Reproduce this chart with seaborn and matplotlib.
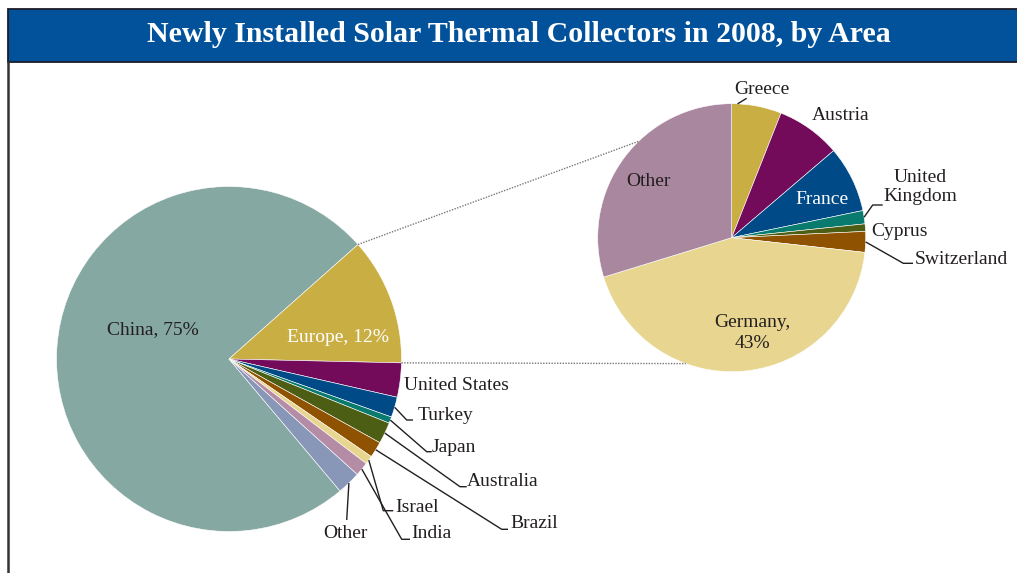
import numpy as np
import matplotlib.pyplot as plt
import seaborn as sns
from matplotlib.patches import Rectangle

# world split of newly installed collector area, 2008 (%)
world_labels = ["China", "Europe", "United States", "Turkey", "Japan",
                "Australia", "Brazil", "Israel", "India", "Other"]
world_share = [74.5, 11.9, 3.2, 1.9, 0.6, 2.0, 1.5, 0.8, 1.3, 2.2]
world_colors = ["#86a8a3", "#c9ae44", "#730a5a", "#004a88", "#087a6e",
                "#4c5e14", "#8e5200", "#e8d58f", "#b58ca5", "#8896b8"]

# breakdown of the European slice (%)
europe_labels = ["Greece", "Austria", "France", "United Kingdom", "Cyprus",
                 "Switzerland", "Germany", "Other"]
europe_share = [6.0, 7.75, 8.0, 1.6, 0.9, 2.5, 43.5, 29.75]
europe_colors = ["#c9ae44", "#730a5a", "#004a88", "#087a6e", "#4c5e14",
                 "#8e5200", "#e8d58f", "#a9889f"]

W, H = 1017, 573
INK = "#231f20"

sns.set_style("white")
plt.rcParams["font.family"] = ["Liberation Serif", "DejaVu Serif"]


def px(x, y):
    # image pixel coords (y down) -> axes data coords (y up)
    return x, H - y


def edge_point(wedge, angle=None):
    if angle is None:
        angle = (wedge.theta1 + wedge.theta2) / 2
    a = np.deg2rad(angle)
    cx, cy = wedge.center
    return cx + wedge.r * np.cos(a), cy + wedge.r * np.sin(a)


def leader(ax, start, elbows):
    xs = [start[0]] + [px(*p)[0] for p in elbows]
    ys = [start[1]] + [px(*p)[1] for p in elbows]
    ax.plot(xs, ys, color=INK, lw=1.0, solid_capstyle="butt")


def label(ax, x, y, s, ha="center", color=INK, size=14, **kw):
    X, Y = px(x, y)
    ax.text(X, Y, s, ha=ha, va="center", color=color, fontsize=size, **kw)


fig = plt.figure(figsize=(W / 100, H / 100), dpi=100)
ax = fig.add_axes([0, 0, 1, 1])

pal_world = sns.color_palette(world_colors)
pal_europe = sns.color_palette(europe_colors)

# main pie, China wedge ends where Europe starts (~41.6 deg)
start_main = 41.6 + 360 * world_share[0] / sum(world_share)
w_main, _ = ax.pie(world_share, colors=pal_world, center=px(229, 359), radius=172.5,
                   startangle=start_main, counterclock=False,
                   wedgeprops=dict(edgecolor="white", linewidth=0.4))

# Europe detail pie
w_eu, _ = ax.pie(europe_share, colors=pal_europe, center=px(731.7, 237.7), radius=134,
                 startangle=90, counterclock=False,
                 wedgeprops=dict(edgecolor="white", linewidth=0.4))

ax.set_xlim(0, W)
ax.set_ylim(0, H)
ax.set_aspect("auto")
ax.axis("off")

# dotted connectors between Europe slice and detail pie
eu = w_main[1]
det = w_eu[0]
for a_main, a_det in [(eu.theta2, 134), (eu.theta1, 250)]:
    p0 = edge_point(eu, a_main)
    p1 = edge_point(det, a_det)
    ax.plot([p0[0], p1[0]], [p0[1], p1[1]], color="#777777", lw=1.0,
            linestyle=(0, (1, 1)))

# frame and title band
ax.add_patch(Rectangle(px(8, 62), W, 53, facecolor="#01529b",
                       edgecolor="#1c1c2a", lw=1.3, zorder=5))
ax.plot([8, 8], [0, H - 62], color="#333333", lw=1.8, zorder=5)
label(ax, 519, 35, "Newly Installed Solar Thermal Collectors in 2008, by Area",
      color="white", size=21.5, fontweight="bold", zorder=6)

# main pie labels
label(ax, 152.5, 330, "China, 75%")
label(ax, 338, 337, "Europe, 12%", color="white")
label(ax, 404, 385, "United States", ha="left")

main_leaders = {
    "Turkey": ([(406.7, 420), (413, 420)], (418, 415)),
    "Japan": ([(426.7, 451.7), (431.7, 451.7)], (432, 448)),
    "Australia": ([(460, 486.7), (466.7, 486.7)], (467, 481)),
    "Brazil": ([(501.7, 529.3), (508, 529.3)], (510, 523)),
    "Israel": ([(383.3, 510.7), (393.3, 510.7)], (395, 507)),
    "India": ([(401.7, 539.3), (410, 539.3)], (411, 534)),
}
for name, (elbows, pos) in main_leaders.items():
    i = world_labels.index(name)
    leader(ax, edge_point(w_main[i]), elbows)
    label(ax, pos[0], pos[1], name, ha="left")

leader(ax, edge_point(w_main[-1]), [(346.7, 520)])
label(ax, 345, 534, "Other")

# detail pie labels
leader(ax, edge_point(w_eu[0], 87.5), [(746.7, 98.3)])
label(ax, 762, 90, "Greece")
label(ax, 841, 115, "Austria")
label(ax, 822, 199, "France", color="white")
leader(ax, edge_point(w_eu[3]), [(872.7, 205), (882.7, 205)])
label(ax, 920, 187, "United\nKingdom", linespacing=1.2)
label(ax, 871, 231, "Cyprus", ha="left")
leader(ax, edge_point(w_eu[5]), [(903.3, 263.3), (913, 263.3)])
label(ax, 915, 259, "Switzerland", ha="left")
label(ax, 648, 181, "Other")
label(ax, 752, 333, "Germany,\n43%", linespacing=1.25)

fig.savefig("out.png", dpi=100)
